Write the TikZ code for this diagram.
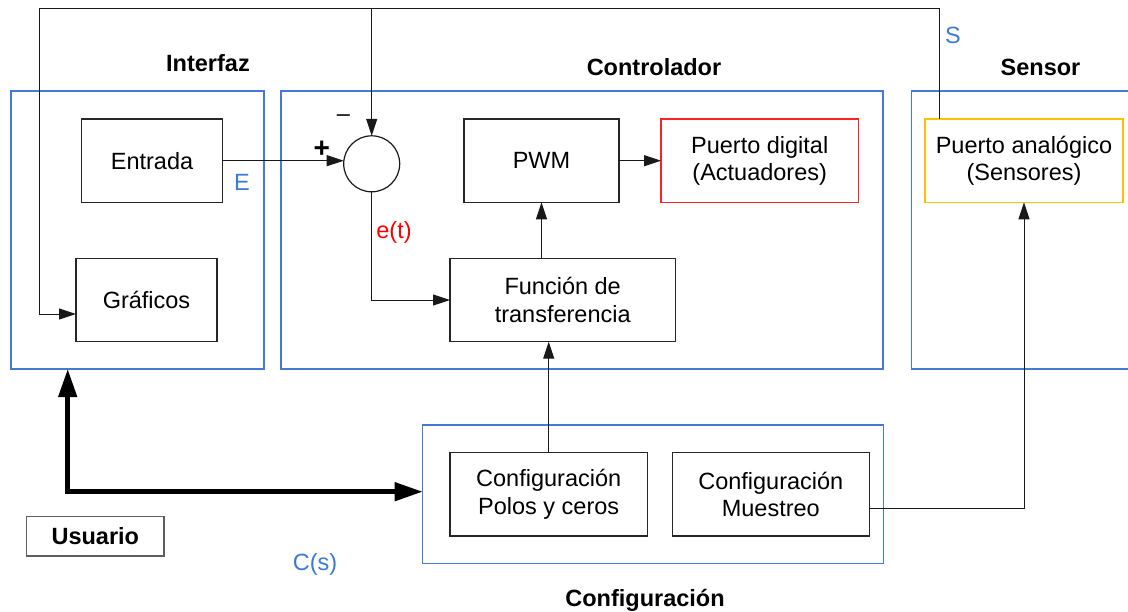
\documentclass[tikz,border=0pt]{standalone}
\usepackage{fontspec}
\setmainfont{Liberation Sans}
\usetikzlibrary{arrows.meta,calc}
\definecolor{boxblue}{RGB}{68,122,212}
\definecolor{txtblue}{RGB}{58,122,218}
\definecolor{boxred}{RGB}{255,32,32}
\definecolor{txtred}{RGB}{255,0,0}
\definecolor{boxorange}{RGB}{255,192,0}
\definecolor{usergray}{RGB}{95,95,95}
\newcommand\dfont{\fontsize{23.5}{27.5}\selectfont}
\tikzset{
  groupbox/.style={draw=boxblue, line width=1.2pt, inner sep=0pt, outer sep=0pt},
  blk/.style={draw=black!85, line width=1.2pt, inner sep=0pt, outer sep=0pt, align=center, font=\dfont},
  lbl/.style={inner sep=0pt, font=\dfont},
  head/.style={inner sep=0pt, font=\dfont\bfseries},
  conn/.style={draw=black!90, line width=1pt, -{Triangle[length=17pt,width=11pt]}},
  plainconn/.style={draw=black!90, line width=1pt},
  thickconn/.style={draw=black, line width=4.6pt, {Triangle[length=28pt,width=18pt]}-{Triangle[length=28pt,width=18pt]}},
}
\begin{document}
\begin{tikzpicture}[x=1pt,y=-1pt]
\useasboundingbox (0,0) rectangle (1128,611);

% group boxes
\node[groupbox, minimum width=253pt, minimum height=278pt] (interfaz) at (137.5,230) {};
\node[groupbox, minimum width=602pt, minimum height=278pt] (controlador) at (582,230) {};
\node[groupbox, minimum width=223.5pt, minimum height=278pt] (sensor) at (1023.25,230) {};
\node[groupbox, minimum width=460.6pt, minimum height=138.3pt] (config) at (653,494.2) {};

% headings
\node[head] (hInterfaz) at (208,63) {Interfaz};
\node[head] (hControlador) at (654,67) {Controlador};
\node[head] (hSensor) at (1040.5,67) {Sensor};
\node[head] (hConfig) at (645,600) {Configuración};

% blocks
\node[blk, minimum width=140.6pt, minimum height=83.3pt] (entrada) at (152,160.7) {Entrada};
\node[blk, minimum width=141pt, minimum height=83.4pt] (graficos) at (146.5,300) {Gráficos};
\node[draw=black!90, line width=1.2pt, circle, minimum size=56pt, inner sep=0pt, outer sep=0pt] (sum) at (371.7,163.8) {};
\node[blk, minimum width=155pt, minimum height=83.3pt] (pwm) at (541.5,160.7) {PWM};
\node[blk, draw=boxred, minimum width=197.3pt, minimum height=83.3pt] (digital) at (759.7,160.7) {Puerto digital\\(Actuadores)};
\node[blk, minimum width=225.3pt, minimum height=83.4pt] (funcion) at (562.7,300) {Función de\\transferencia};
\node[blk, draw=boxorange, minimum width=198pt, minimum height=83.3pt] (analogico) at (1024,160.7) {Puerto analógico\\(Sensores)};
\node[blk, minimum width=197.3pt, minimum height=83.3pt] (polos) at (548.7,494.3) {Configuración\\Polos y ceros};
\node[blk, minimum width=197pt, minimum height=83.3pt] (muestreo) at (770.8,494.3) {Configuración\\Muestreo};
\node[blk, draw=usergray, minimum width=137.3pt, minimum height=39.3pt, font=\dfont\bfseries] (usuario) at (95.3,536.3) {Usuario};

% signal labels
\node[lbl, text=txtblue] (lE) at (242,182) {E};
\node[lbl, text=txtblue] (lS) at (953,35) {S};
\node[lbl, text=txtred] (let) at (394,232) {e(t)};
\node[lbl, text=txtblue] (lCs) at (315,564) {C(s)};
\node[inner sep=0pt, font=\fontsize{28}{30}\selectfont\bfseries] (plus) at (321.7,149.5) {+};
\node[lbl] (minus) at (343.3,118) {–};

% feedback loop
\coordinate (topR) at (939,8);
\coordinate (topL) at (39.3,8);
\draw[conn] (analogico.north -| topR) -- (topR) -- (topL) |- ([yshift=-14pt]graficos.west);
\draw[conn] (sum.north |- topR) -- (sum.north);

% forward path
\draw[conn] (entrada.east) -- (entrada.east -| sum.west);
\draw[conn] (sum.south) |- (funcion.west);
\draw[conn] (funcion.north -| pwm.south) -- (pwm.south);
\draw[conn] (pwm.east) -- (digital.west);
\draw[conn] (polos.north) -- (polos.north |- funcion.south);
\draw[conn] ([yshift=-14pt]muestreo.east) -| (analogico.south);

% user link
\coordinate (ucorner) at (67.7,491.7);
\draw[thickconn] (interfaz.south -| ucorner) -- (ucorner) -- (ucorner -| config.west);
\end{tikzpicture}
\end{document}
